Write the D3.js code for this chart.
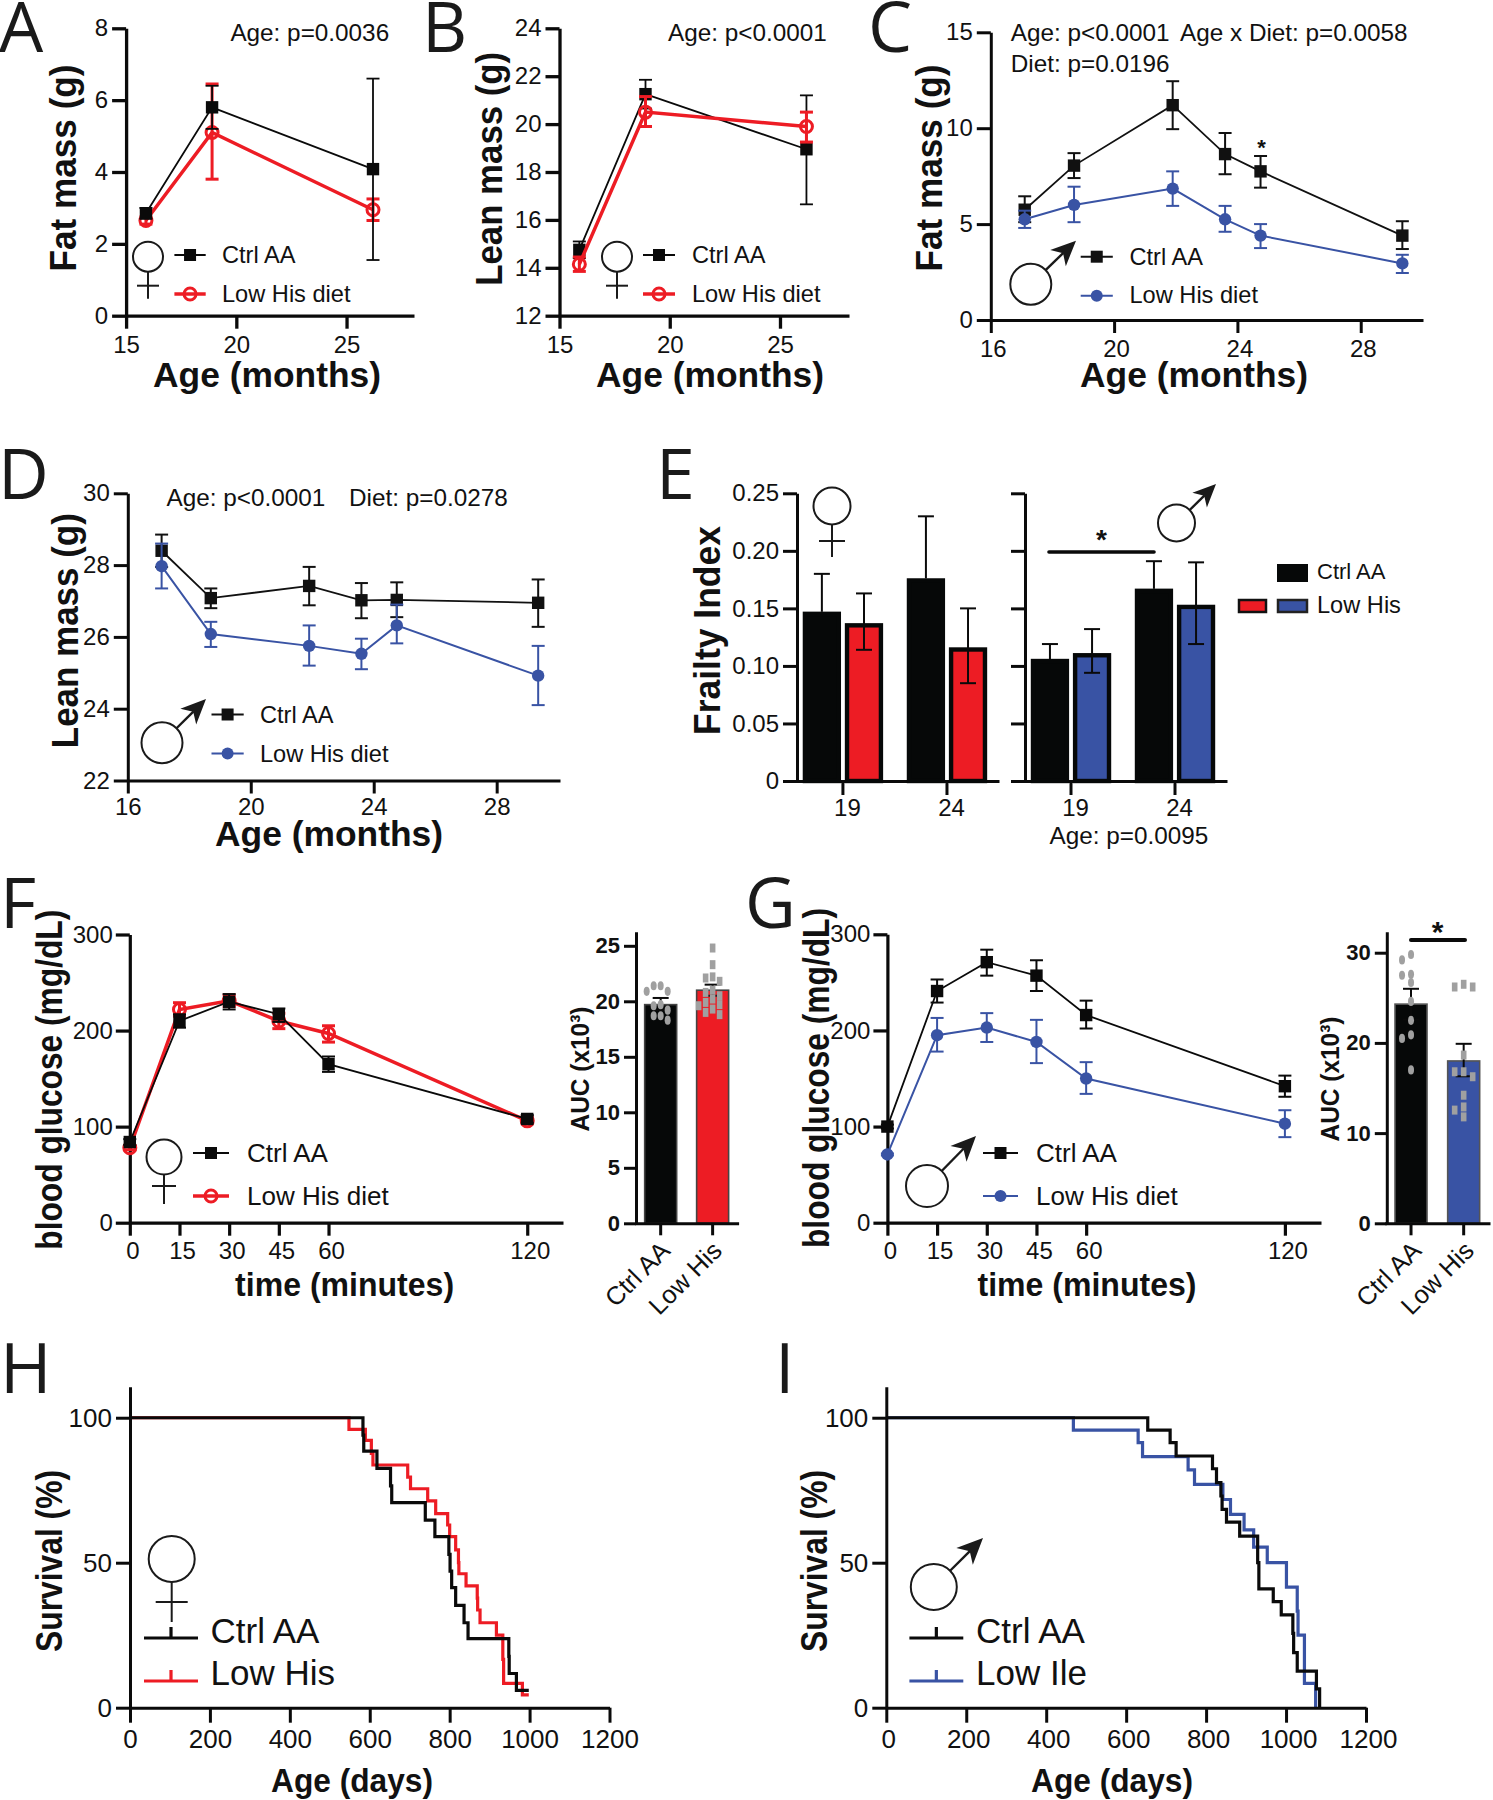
<!DOCTYPE html>
<html><head><meta charset="utf-8">
<script src="https://cdnjs.cloudflare.com/ajax/libs/d3/7.8.5/d3.min.js"></script>
<style>html,body{margin:0;padding:0;background:#fff}svg{display:block}text{font-family:"Liberation Sans",Arial,sans-serif;fill:#111}</style>
</head><body><svg id="c" width="1493" height="1800"></svg>
<script>
// ---------- DATA ----------
const femaleAges=[15.9,18.9,26.2];
const maleAges=[17.1,18.7,21.9,23.6,24.75,29.35];
const gttTimes=[0,15,30,45,60,120];
const aCtrl=[2.85,5.8,4.08], aCtrlLo=[2.7,5.2,1.55], aCtrlHi=[3.0,6.4,6.6];
const aLow=[2.65,5.1,2.95], aLowLo=[2.55,3.8,2.65], aLowHi=[2.75,6.45,3.25];
const bCtrl=[14.75,21.25,18.95], bCtrlLo=[14.4,20.65,16.65], bCtrlHi=[15.1,21.85,21.2];
const bLow=[14.15,20.5,19.9], bLowLo=[13.85,19.9,19.25], bLowHi=[14.45,21.15,20.5];
const cCtrl=[5.75,8.05,11.2,8.65,7.75,4.4], cCtrlLo=[5.1,7.4,9.95,7.6,6.9,3.7], cCtrlHi=[6.45,8.7,12.45,9.75,8.55,5.15];
const cLow=[5.25,6.0,6.85,5.25,4.4,2.95], cLowLo=[4.8,5.1,5.95,4.6,3.75,2.45], cLowHi=[5.7,6.95,7.75,5.95,5.0,3.4];
const dCtrl=[28.4,27.08,27.42,27.02,27.03,26.95], dCtrlLo=[27.95,26.8,26.88,26.52,26.55,26.28], dCtrlHi=[28.85,27.35,27.95,27.5,27.52,27.6];
const dLow=[27.97,26.08,25.75,25.53,26.32,24.92], dLowLo=[27.35,25.72,25.2,25.1,25.82,24.1], dLowHi=[28.6,26.42,26.32,25.95,26.9,25.75];
const frailtyAges=['19','24'];
const frailtySeries=['Ctrl AA','Low His'];
const eFemaleCtrl=[0.147,0.176], eFemaleCtrlHi=[0.18,0.23];
const eFemaleLow=[0.137,0.116], eFemaleLowLo=[0.114,0.085], eFemaleLowHi=[0.163,0.15];
const eMaleCtrl=[0.106,0.167], eMaleCtrlHi=[0.119,0.191];
const eMaleLow=[0.111,0.153], eMaleLowLo=[0.094,0.119], eMaleLowHi=[0.132,0.19];
const fCtrl=[84,210,230,217,165,108], fCtrlLo=[81,203,222,209,157,104], fCtrlHi=[87,217,238,223,173,112];
const fLow=[78,222,231,210,197,106], fLowLo=[76,215,225,202,188,103], fLowHi=[80,229,237,218,205,110];
const gCtrl=[100,241,271,257,216,142], gCtrlLo=[98,229,257,241,202,131], gCtrlHi=[102,253,284,273,231,153];
const gLow=[71,195,203,188,150,103], gLowLo=[70,178,188,166,134,89], gLowHi=[72,213,218,211,167,117];
const aucGroups=['Ctrl AA','Low His'];
const fAucMean=[19.7,21], fAucLo=[19.2,20.5], fAucHi=[20.3,21.5];
const fAucCtrlPts=[21.4,21.4,20.9,20.9,19.7,19.6,19.2,18.7,18.7,18.3];
const fAucLowPts=[24.8,23.3,22.2,22.1,21.8,21.0,20.8,20.5,20.2,19.9,19.7,19.6,19.3,19.0,18.8];
const gAucMean=[24.3,18], gAucLo=[22.6,16.3], gAucHi=[26,19.9];
const gAucCtrlPts=[29.8,29.2,27.6,27.5,26.7,24.6,22.5,20.9,20.5,17.0];
const gAucLowPts=[26.5,26.2,26.2,18.65,16.8,16.8,16.25,14.2,12.9,12.55,11.8];
const hCtrlDays=[583,585,618,652,655,739,763,798,801,805,815,836,846,948,949,967,998];
const hCtrlSurv=[94,88.5,82.5,76.5,70.7,64.7,59,52.9,47.1,41.4,35.3,29.3,23.8,17.7,11.8,6,6];
const hLowDays=[548,589,604,608,695,702,745,765,795,800,815,822,823,841,869,870,876,917,933,935,982,998];
const hLowSurv=[96,92.2,87.7,83.7,79.5,75.5,71.3,66.9,63,59,54.4,50,46.2,42,37.8,33.7,29.3,25,16.7,8.4,4.4,4.4];
const iCtrlDays=[654,710,725,816,826,837,840,851,884,929,932,968,988,1017,1019,1028,1076,1084];
const iCtrlSurv=[95.7,91.4,86.8,82.4,77.6,73,68.4,64,59.2,50,41,36.6,32,25.6,19,12.6,6.5,0];
const iLowDays=[468,630,641,755,771,842,861,895,919,953,1001,1028,1030,1046,1074];
const iLowSurv=[95.7,91.4,86.6,82,77,71.8,66.7,61.3,55.4,50,41.6,33.3,25,8.4,0];

// ---------- STYLE ----------
const RED='#ed1c24',BLUE='#3953a4',BLACK='#0a0a0a';
const svg=d3.select('#c');

function txt(x,y,s,size,o={}){
  const t=svg.append('text').attr('x',x).attr('y',y).text(s).style('font-size',size+'px');
  if(o.anchor)t.attr('text-anchor',o.anchor);
  if(o.bold)t.style('font-weight','bold');
  if(o.font)t.style('font-family',o.font);
  if(o.len)t.attr('textLength',o.len).attr('lengthAdjust','spacingAndGlyphs');
  if(o.rot!==undefined)t.attr('transform',`rotate(${o.rot} ${x} ${y})`);
  return t;
}
const panelLetter=(s,x,y)=>txt(x,y,s,70,{font:'"Open Sans",sans-serif'}).style('fill','#1a1a1a');
const yTitle=(s,x,cy,len,size=36)=>txt(x,cy,s,size,{bold:true,anchor:'middle',rot:-90,len});
const xTitle=(s,cx,y,len,size=35)=>txt(cx,y,s,size,{bold:true,anchor:'middle',len});
function star(x,cy,size){txt(x,cy+size*0.56,'*',size,{bold:true,anchor:'middle'});}
function sig(x1,x2,y,w){svg.append('line').attr('x1',x1).attr('x2',x2).attr('y1',y).attr('y2',y).attr('stroke','#0a0a0a').attr('stroke-width',w).attr('stroke-linecap','round');}

function female(cx,cy,r,stem,crossAt,crossHalf,sw=2){
  const g=svg.append('g').attr('fill','none').attr('stroke','#1a1a1a').attr('stroke-width',sw);
  g.append('circle').attr('cx',cx).attr('cy',cy).attr('r',r).attr('fill','#fff');
  g.append('line').attr('x1',cx).attr('x2',cx).attr('y1',cy+r).attr('y2',cy+stem);
  g.append('line').attr('x1',cx-crossHalf).attr('x2',cx+crossHalf).attr('y1',cy+crossAt).attr('y2',cy+crossAt);
}
function male(cx,cy,r,tx,ty,head=25,sw=2){
  const g=svg.append('g');
  g.append('circle').attr('cx',cx).attr('cy',cy).attr('r',r).attr('fill','#fff').attr('stroke','#1a1a1a').attr('stroke-width',sw);
  const dx=tx-cx,dy=ty-cy,L=Math.hypot(dx,dy),ux=dx/L,uy=dy/L,nx=-uy,ny=ux;
  g.append('line').attr('x1',cx+ux*r).attr('y1',cy+uy*r).attr('x2',tx-ux*head*.7).attr('y2',ty-uy*head*.7).attr('stroke','#1a1a1a').attr('stroke-width',sw+.4);
  const p=[[tx,ty],[tx-ux*head+nx*head*.45,ty-uy*head+ny*head*.45],[tx-ux*head*.72,ty-uy*head*.72],[tx-ux*head-nx*head*.45,ty-uy*head-ny*head*.45]];
  g.append('polygon').attr('points',p.map(q=>q.join(',')).join(' ')).attr('fill','#1a1a1a');
}

function axes(x,y,xTicks,yTicks,o={}){
  const sw=o.sw||3, ts=o.size||24;
  const gy=svg.append('g').attr('transform',`translate(${x.range()[0]},0)`)
    .call(d3.axisLeft(y).tickValues(yTicks).tickSize(o.yTick||14).tickSizeOuter(0).tickPadding(o.pad||5).tickFormat(o.yFmt||(d=>d)));
  const gx=svg.append('g').attr('transform',`translate(0,${y.range()[0]})`)
    .call(d3.axisBottom(x).tickValues(xTicks).tickSize(o.xTick||13).tickSizeOuter(0).tickPadding(o.xPad||7).tickFormat(o.xFmt||(d=>d)));
  for(const g of [gx,gy]){
    g.selectAll('.domain,.tick line').attr('stroke','#0a0a0a').attr('stroke-width',sw);
    g.selectAll('text').style('font-size',ts+'px').style('fill','#111').attr('font-family',null);
  }
  if(o.xDx)gx.selectAll('text').attr('dx',o.xDx);
  return {gx,gy};
}

function series(x,y,xs,v,lo,hi,o){
  const g=svg.append('g');
  const pts=xs.map((t,i)=>({t,v:v[i],lo:lo[i],hi:hi[i]}));
  const ew=o.ew||2, cap=o.cap||6.5;
  g.selectAll('.e').data(pts).join('line').attr('x1',d=>x(d.t)).attr('x2',d=>x(d.t)).attr('y1',d=>y(d.lo)).attr('y2',d=>y(d.hi)).attr('stroke',o.color).attr('stroke-width',ew);
  for(const k of ['lo','hi'])
    g.selectAll('.c'+k).data(pts).join('line').attr('x1',d=>x(d.t)-cap).attr('x2',d=>x(d.t)+cap).attr('y1',d=>y(d[k])).attr('y2',d=>y(d[k])).attr('stroke',o.color).attr('stroke-width',ew);
  g.append('path').attr('d',d3.line().x(d=>x(d.t)).y(d=>y(d.v))(pts)).attr('fill','none').attr('stroke',o.color).attr('stroke-width',o.lw||2);
  pts.forEach(d=>marker(g,o.type,x(d.t),y(d.v),o.color,o.ms));
}
function marker(g,type,cx,cy,color,ms=6.2){
  if(type==='square')g.append('rect').attr('x',cx-ms).attr('y',cy-ms).attr('width',2*ms).attr('height',2*ms).attr('fill',color);
  else if(type==='open')g.append('circle').attr('cx',cx).attr('cy',cy).attr('r',ms).attr('fill','none').attr('stroke',color).attr('stroke-width',3);
  else g.append('circle').attr('cx',cx).attr('cy',cy).attr('r',ms).attr('fill',color);
}
function legendLine(x1,x2,y,type,color,label,tx,by,lw,size=23.6){
  const g=svg.append('g');
  g.append('line').attr('x1',x1).attr('x2',x2).attr('y1',y).attr('y2',y).attr('stroke',color).attr('stroke-width',lw);
  marker(g,type,(x1+x2)/2,y,color,6);
  txt(tx,by,label,size);
}
const lin=(dom,rng)=>d3.scaleLinear().domain(dom).range(rng);

// ---------- A ----------
panelLetter('A',-1,52);
{const x=lin([15,28.06],[126.1,414]),y=lin([0,8],[315.7,28.3]);
 axes(x,y,[15,20,25],[0,2,4,6,8],{sw:3.3,pad:4});
 series(x,y,femaleAges,aLow,aLowLo,aLowHi,{color:RED,type:'open',lw:3.5,ew:3,ms:6});
 series(x,y,femaleAges,aCtrl,aCtrlLo,aCtrlHi,{color:BLACK,type:'square',lw:1.8,ew:1.8});
 yTitle('Fat mass (g)',75.7,168,207);xTitle('Age (months)',267,387,228);
 txt(230.4,40.7,'Age: p=0.0036',24.3);
 female(148,256.7,15,42,29,11);
 legendLine(174.4,205.7,255,'square',BLACK,'Ctrl AA',222,263,2);
 legendLine(174.4,205.7,294,'open',RED,'Low His diet',222,302,3.5);
}
// ---------- B ----------
panelLetter('B',422,52);
{const x=lin([15,28.13],[559.5,849]),y=lin([12,24],[315.7,28.3]);
 axes(x,y,[15,20,25],[12,14,16,18,20,22,24],{sw:3.3,pad:4});
 series(x,y,femaleAges,bCtrl,bCtrlLo,bCtrlHi,{color:BLACK,type:'square',lw:1.8,ew:1.8});
 series(x,y,femaleAges,bLow,bLowLo,bLowHi,{color:RED,type:'open',lw:3.5,ew:3,ms:6});
 yTitle('Lean mass (g)',502.5,168.8,234);xTitle('Age (months)',710,387,228);
 txt(668,40.7,'Age: p<0.0001',24.3);
 female(617,256.7,15,42,29,11);
 legendLine(643,675,255,'square',BLACK,'Ctrl AA',692,263,2);
 legendLine(643,675,294,'open',RED,'Low His diet',692,302,3.5);
}
// ---------- C ----------
panelLetter('C',868,52);
{const x=lin([16,30.02],[990.8,1423]),y=lin([0,15],[320,32.3]);
 axes(x,y,[16,20,24,28],[0,5,10,15],{sw:3,pad:4,xDx:2});
 series(x,y,maleAges,cCtrl,cCtrlLo,cCtrlHi,{color:'#111',type:'square',lw:1.8,ew:2});
 series(x,y,maleAges,cLow,cLowLo,cLowHi,{color:BLUE,type:'dot',lw:2,ew:2});
 yTitle('Fat mass (g)',942,168,207);xTitle('Age (months)',1194,387,228);
 txt(1010.8,40.7,'Age: p<0.0001',24.3);txt(1180,40.7,'Age x Diet: p=0.0058',24.3);txt(1010.8,71.7,'Diet: p=0.0196',24.3);
 star(x(24.75)+1,143,22);
 male(1030.8,284.3,20.5,1076,240.7);
 legendLine(1080.7,1112.8,256.7,'square','#111','Ctrl AA',1129.5,264.5,2);
 legendLine(1080.7,1112.8,295.7,'dot',BLUE,'Low His diet',1129.5,303,2);
}
// ---------- D ----------
panelLetter('D',-2,499);
{const x=lin([16,30.06],[127.8,560]),y=lin([22,30],[780.5,493.3]);
 axes(x,y,[16,20,24,28],[22,24,26,28,30],{sw:3,xPad:4,pad:4});
 series(x,y,maleAges,dCtrl,dCtrlLo,dCtrlHi,{color:'#111',type:'square',lw:1.8,ew:2});
 series(x,y,maleAges,dLow,dLowLo,dLowHi,{color:BLUE,type:'dot',lw:2,ew:2});
 yTitle('Lean mass (g)',77.6,630.7,235);xTitle('Age (months)',329,846,228);
 txt(166.5,506,'Age: p<0.0001',24.3);txt(349,506,'Diet: p=0.0278',24.3);
 male(162,742.7,20.5,206,699);
 legendLine(211.5,243.7,714.5,'square','#111','Ctrl AA',260,722.5,2);
 legendLine(211.5,243.7,753.5,'dot',BLUE,'Low His diet',260,761.5,2);
}
// ---------- E ----------
panelLetter('E',656,499);
function frailty(rng,axisX,ctrl,ctrlHi,low,lowLo,lowHi,color,labels){
  const y=lin([0,0.25],[781,493.3]);
  const x=d3.scaleBand().domain(frailtyAges).range(rng);
  const inner=d3.scaleBand().domain(frailtySeries).range([-40,40]).paddingInner(.1);
  const ay=svg.append('g').attr('transform',`translate(${axisX},0)`)
   .call(d3.axisLeft(y).tickValues(d3.range(0,6).map(i=>i*0.05)).tickSize(14).tickSizeOuter(0).tickPadding(4).tickFormat(labels?(d=>d<1e-9?'0':d.toFixed(2)):''));
  const ax=svg.append('g').attr('transform',`translate(0,${y(0)})`)
   .call(d3.axisBottom(x).tickSize(14).tickSizeOuter(0).tickPadding(4));
  for(const g of [ay,ax]){g.selectAll('.domain,.tick line').attr('stroke','#0a0a0a').attr('stroke-width',3);g.selectAll('text').style('font-size','24px').style('fill','#111');}
  ax.selectAll('text').attr('dx',4.5);
  const bar=(age,i,s,v,fill)=>{
    const X=x(age)+x.bandwidth()/2+inner(s);
    svg.append('rect').attr('x',X+2).attr('width',inner.bandwidth()-4).attr('y',y(v)+2).attr('height',y(0)-y(v)-2).attr('fill',fill).attr('stroke','#060808').attr('stroke-width',4.4);
    return X+inner.bandwidth()/2;
  };
  const err=(cx,a,b)=>{
    const g=svg.append('g').attr('stroke','#0a0a0a').attr('stroke-width',2);
    g.append('line').attr('x1',cx).attr('x2',cx).attr('y1',y(a)).attr('y2',y(b));
    g.append('line').attr('x1',cx-8).attr('x2',cx+8).attr('y1',y(b)).attr('y2',y(b));
    if(a!==b)g.append('line').attr('x1',cx-8).attr('x2',cx+8).attr('y1',y(a)).attr('y2',y(a));
  };
  frailtyAges.forEach((age,i)=>{
    const c1=bar(age,i,frailtySeries[0],ctrl[i],'#060808');
    const c2=bar(age,i,frailtySeries[1],low[i],color);
    const g=svg.append('g').attr('stroke','#0a0a0a').attr('stroke-width',2);
    g.append('line').attr('x1',c1).attr('x2',c1).attr('y1',y(ctrl[i])).attr('y2',y(ctrlHi[i]));
    g.append('line').attr('x1',c1-8).attr('x2',c1+8).attr('y1',y(ctrlHi[i])).attr('y2',y(ctrlHi[i]));
    err(c2,lowLo[i],lowHi[i]);
  });
}
frailty([790.9,999],797,eFemaleCtrl,eFemaleCtrlHi,eFemaleLow,eFemaleLowLo,eFemaleLowHi,RED,true);
frailty([1019,1227],1025,eMaleCtrl,eMaleCtrlHi,eMaleLow,eMaleLowLo,eMaleLowHi,BLUE,false);
yTitle('Frailty Index',720,630.5,209);
female(832,506,18.5,51,35,13);
male(1176.5,523,18.5,1216,484,23);
sig(1049,1154,552,3.6);star(1101.5,533,28);
txt(1049.5,843.5,'Age: p=0.0095',24.3);
svg.append('rect').attr('x',1278).attr('y',565).attr('width',29).attr('height',16).attr('fill','#060808').attr('stroke','#060808').attr('stroke-width',2);
svg.append('rect').attr('x',1239).attr('y',600).attr('width',27).attr('height',12).attr('fill',RED).attr('stroke','#111').attr('stroke-width',2.5);
svg.append('rect').attr('x',1278).attr('y',600).attr('width',29).attr('height',12).attr('fill',BLUE).attr('stroke','#222').attr('stroke-width',2.5);
txt(1317,579,'Ctrl AA',22);txt(1317,613,'Low His',23.6);

// ---------- F / G ----------
function gtt(xr,yr,ctrl,ctrlLo,ctrlHi,low,lowLo,lowHi,o){
  const x=lin([0,o.end],xr),y=lin([0,300],yr);
  axes(x,y,[0,15,30,45,60,120],[0,100,200,300],{sw:3.2,yTick:14,pad:3,xPad:6,xDx:2.5});
  if(o.lowFirst){series(x,y,gttTimes,low,lowLo,lowHi,o.lowStyle);series(x,y,gttTimes,ctrl,ctrlLo,ctrlHi,{color:BLACK,type:'square',lw:1.8,ew:2});}
  else{series(x,y,gttTimes,ctrl,ctrlLo,ctrlHi,{color:BLACK,type:'square',lw:1.8,ew:2});series(x,y,gttTimes,low,lowLo,lowHi,o.lowStyle);}
}
function auc(rng,axisX,yDom,yRng,ticks,mean,lo,hi,color,ctrlPts,lowPts,barBorder,step,lab){
  const x=d3.scaleBand().domain(aucGroups).range(rng);
  const y=lin(yDom,yRng);
  const half=16;
  aucGroups.forEach((g,i)=>{
    const cx=x(g)+x.bandwidth()/2;
    svg.append('rect').attr('x',cx-half).attr('width',2*half).attr('y',y(mean[i])).attr('height',y(0)-y(mean[i])).attr('fill',i?color:'#060808').attr('stroke',barBorder).attr('stroke-width',1.6);
    const e=svg.append('g').attr('stroke','#0a0a0a').attr('stroke-width',2);
    e.append('line').attr('x1',cx).attr('x2',cx).attr('y1',y(lo[i])).attr('y2',y(hi[i]));
    e.append('line').attr('x1',cx-8).attr('x2',cx+8).attr('y1',y(hi[i])).attr('y2',y(hi[i]));
    e.append('line').attr('x1',cx-8).attr('x2',cx+8).attr('y1',y(lo[i])).attr('y2',y(lo[i]));
  });
  const slots=[0,-1,1,-2,2];
  const swarm=(vals,cx,isSq)=>{
    const placed=[];
    vals.forEach(v=>{
      const py=y(v);
      let s=slots.find(s=>!placed.some(p=>p.s===s&&Math.abs(p.py-py)<8))??0;
      placed.push({s,py});
      const px=cx+s*step;
      if(isSq)svg.append('rect').attr('x',px-2.8).attr('y',py-4.5).attr('width',5.6).attr('height',9).attr('fill','#a0a0a0');
      else svg.append('ellipse').attr('cx',px).attr('cy',py).attr('rx',3).attr('ry',4.6).attr('fill','#a0a0a0');
    });
  };
  swarm(ctrlPts,x(aucGroups[0])+x.bandwidth()/2,false);
  swarm(lowPts,x(aucGroups[1])+x.bandwidth()/2,true);
  const ay=svg.append('g').attr('transform',`translate(${axisX},0)`)
    .call(d3.axisLeft(y).tickValues(ticks).tickSize(12).tickSizeOuter(0).tickPadding(4));
  const ax=svg.append('g').attr('transform',`translate(0,${y(0)})`)
    .call(d3.axisBottom(x).tickSize(12).tickSizeOuter(0).tickPadding(6));
  for(const g of [ax,ay])g.selectAll('.domain,.tick line').attr('stroke','#0a0a0a').attr('stroke-width',3);
  ay.selectAll('text').style('font-size','22px').style('font-weight','bold').style('fill','#111');
  ax.selectAll('text').style('font-size','25.5px').style('fill','#111').attr('text-anchor','end').attr('dy','.45em')
    .attr('transform',`translate(${lab[0]},${lab[1]}) rotate(-45)`);
}
panelLetter('F',0,928);
gtt([129.8,563],[1222.7,934.5],fCtrl,fCtrlLo,fCtrlHi,fLow,fLowLo,fLowHi,{end:130.8,lowFirst:true,lowStyle:{color:RED,type:'open',lw:3.5,ew:3,ms:6}});
yTitle('blood glucose (mg/dL)',62.5,1079.7,340);xTitle('time (minutes)',344.6,1296,219,33);
female(164,1157,17.5,47,29,12);
legendLine(193,229,1153,'square',BLACK,'Ctrl AA',247,1161.5,2,26);
legendLine(193,229,1196,'open',RED,'Low His diet',247,1204.5,3.5,26);
auc([634.7,738.6],636,[0,26.27],[1223.3,931.7],[0,5,10,15,20,25],fAucMean,fAucLo,fAucHi,RED,fAucCtrlPts,fAucLowPts,'#444',7,[-10,8]);
yTitle('AUC (x10³)',589,1069,125,26);

panelLetter('G',745,928);
gtt([887.4,1321],[1222.7,934.3],gCtrl,gCtrlLo,gCtrlHi,gLow,gLowLo,gLowHi,{end:130.9,lowStyle:{color:BLUE,type:'dot',lw:2,ew:2}});
yTitle('blood glucose (mg/dL)',829,1078,340);xTitle('time (minutes)',1087,1296,219,33);
male(927,1186,21,976,1136);
legendLine(983,1018,1153,'square',BLACK,'Ctrl AA',1036,1161.5,2,26);
legendLine(983,1018,1196,'dot',BLUE,'Low His diet',1036,1204.5,2,26);
auc([1384.7,1490],1386.8,[0,32.33],[1223.3,931.7],[0,10,20,30],gAucMean,gAucLo,gAucHi,BLUE,gAucCtrlPts,gAucLowPts,'#555',9,[-9,8]);
yTitle('AUC (x10³)',1339,1079,125,26);
sig(1411,1465,940,4);star(1437.7,925,30);

// ---------- H / I ----------
function survival(xr,days1,surv1,days2,surv2,color2,xDx){
  const x=lin([0,1200],xr),y=lin([0,110.7],[1707.7,1386.7]);
  const line=d3.line().x(d=>x(d[0])).y(d=>y(d[1])).curve(d3.curveStepAfter);
  const series=(days,surv)=>{const pts=[[0,100]];days.forEach((t,i)=>pts.push([t,surv[i]]));return pts;};
  svg.append('path').attr('d',line(series(days2,surv2))).attr('fill','none').attr('stroke',color2).attr('stroke-width',3.2);
  svg.append('path').attr('d',line(series(days1,surv1))).attr('fill','none').attr('stroke','#0a0a0a').attr('stroke-width',3.2);
  axes(x,y,[0,200,400,600,800,1000,1200],[0,50,100],{sw:3,size:26,yTick:14,pad:4,xTick:15,xPad:7,xDx});
}
function survLegend(x1,x2,tx,label2,color2){
  [[1638,'#0a0a0a','Ctrl AA',1643],[1681,color2,label2,1685]].forEach(([y,c,l,by])=>{
    const g=svg.append('g').attr('stroke',c).attr('stroke-width',3.2);
    g.append('line').attr('x1',x1).attr('x2',x2).attr('y1',y).attr('y2',y);
    g.append('line').attr('x1',(x1+x2)/2).attr('x2',(x1+x2)/2).attr('y1',y).attr('y2',y-11);
    txt(tx,by,l,35);
  });
}
panelLetter('H',0,1393);
survival([130,609.5],hCtrlDays,hCtrlSurv,hLowDays,hLowSurv,RED,0);
yTitle('Survival (%)',62.3,1561,182);xTitle('Age (days)',352,1792,162,33);
female(171.7,1559,23,63,43,16);
survLegend(144,198,210.5,'Low His',RED);

panelLetter('I',775,1393);
survival([886.3,1366],iCtrlDays,iCtrlSurv,iLowDays,iLowSurv,BLUE,2);
yTitle('Survival (%)',827,1561,182);xTitle('Age (days)',1112,1792,162,33);
male(933.8,1587,23,983,1538,26);
survLegend(909.4,963.3,976,'Low Ile',BLUE);
</script></body></html>
